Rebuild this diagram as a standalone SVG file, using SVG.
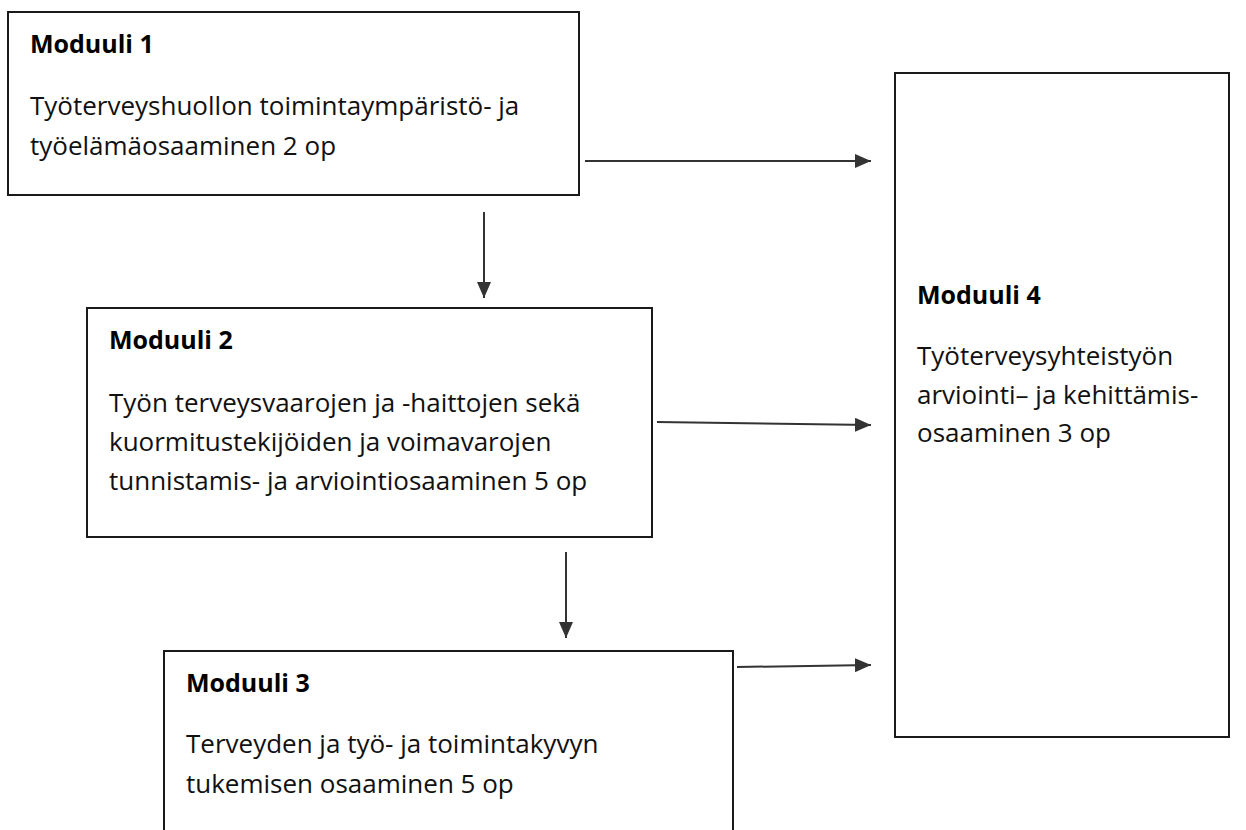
<svg xmlns="http://www.w3.org/2000/svg" width="1246" height="830" viewBox="0 0 1246 830">
<style>
.box{fill:#fff;stroke:#1a1a1a;stroke-width:2}
.t{font-family:"Open Sans","Noto Sans","Liberation Sans",sans-serif;font-size:26px;fill:#111}
.h{font-family:"Open Sans","Noto Sans","Liberation Sans",sans-serif;font-size:25px;font-weight:bold;fill:#000}
.c{stroke:#333;stroke-width:2;fill:none;marker-end:url(#ah)}
</style>
<defs>
<marker id="ah" viewBox="0 0 10 10" refX="10" refY="5" markerWidth="8" markerHeight="7" markerUnits="strokeWidth" orient="auto" preserveAspectRatio="none">
<path d="M0,0 L10,5 L0,10 z" fill="#333"/>
</marker>
</defs>
<rect width="1246" height="830" fill="#fff"/>
<g id="connectors">
<line class="c" x1="585" y1="161" x2="871" y2="161"/>
<line class="c" x1="484" y1="212" x2="484" y2="298"/>
<line class="c" x1="657" y1="422" x2="871" y2="425"/>
<line class="c" x1="566" y1="552" x2="566" y2="638"/>
<line class="c" x1="737" y1="667" x2="871" y2="665"/>
</g>
<g id="node1">
<rect class="box" x="8" y="12" width="571" height="183"/>
<text class="h" x="30" y="53">Moduuli 1</text>
<text class="t" x="30" y="115">Työterveyshuollon toimintaympäristö- ja</text>
<text class="t" x="30" y="155">työelämäosaaminen 2 op</text>
</g>
<g id="node2">
<rect class="box" x="87" y="308" width="565" height="229"/>
<text class="h" x="109" y="349">Moduuli 2</text>
<text class="t" x="109" y="412">Työn terveysvaarojen ja -haittojen sekä</text>
<text class="t" x="109" y="451">kuormitustekijöiden ja voimavarojen</text>
<text class="t" x="109" y="490">tunnistamis- ja arviointiosaaminen 5 op</text>
</g>
<g id="node3">
<path class="box" d="M164,831 V651 H733 V831"/>
<text class="h" x="186" y="692">Moduuli 3</text>
<text class="t" x="186" y="753">Terveyden ja työ- ja toimintakyvyn</text>
<text class="t" x="186" y="793">tukemisen osaaminen 5 op</text>
</g>
<g id="node4">
<rect class="box" x="895" y="73" width="334" height="664"/>
<text class="h" x="917" y="304">Moduuli 4</text>
<text class="t" x="917" y="365">Työterveysyhteistyön</text>
<text class="t" x="917" y="404">arviointi– ja kehittämis-</text>
<text class="t" x="917" y="442">osaaminen 3 op</text>
</g>
</svg>
